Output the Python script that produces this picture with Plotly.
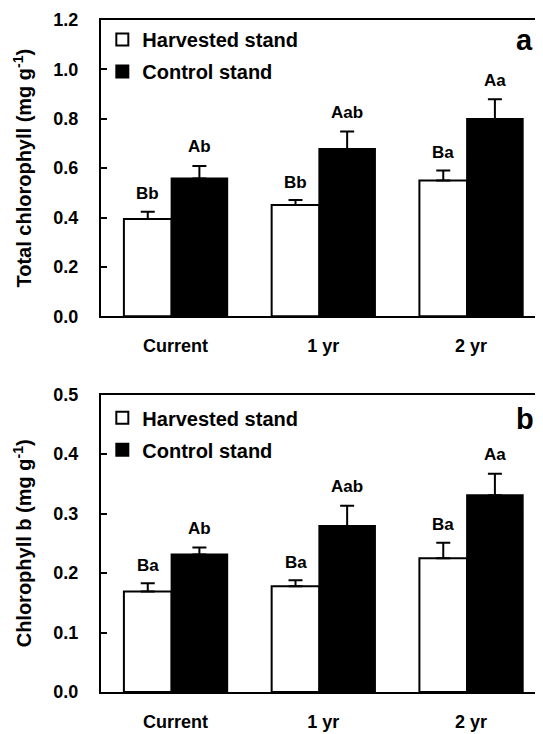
import plotly.graph_objects as go

categories = ["Current", "1 yr", "2 yr"]
series_names = ["Harvested stand", "Control stand"]

# Panel a: Total chlorophyll (mg g-1)
total_harvested = [0.394, 0.451, 0.550]
total_harvested_err = [0.030, 0.020, 0.041]
total_control = [0.558, 0.678, 0.799]
total_control_err = [0.051, 0.071, 0.080]
total_harvested_lbl = ["Bb", "Bb", "Ba"]
total_control_lbl = ["Ab", "Aab", "Aa"]

# Panel b: Chlorophyll b (mg g-1)
chlb_harvested = [0.169, 0.178, 0.225]
chlb_harvested_err = [0.014, 0.010, 0.026]
chlb_control = [0.231, 0.279, 0.331]
chlb_control_err = [0.012, 0.034, 0.036]
chlb_harvested_lbl = ["Ba", "Ba", "Ba"]
chlb_control_lbl = ["Ab", "Aab", "Aa"]

FONT = "Liberation Sans, Arial, sans-serif"
pos = list(range(len(categories)))
W_OFF, W_WID = -0.349, 0.323   # harvested bar offset/width
C_OFF, C_WID = -0.026, 0.376   # control bar offset/width

fig = go.Figure()

def add_panel(xa, ya, leg, hv, he, cv, ce, hl, cl):
    fig.add_trace(go.Bar(
        x=pos, y=hv, name=series_names[0], offset=W_OFF, width=W_WID,
        marker=dict(color="white", line=dict(color="black", width=2)),
        error_y=dict(type="data", array=he, symmetric=False, arrayminus=[0]*len(he),
                     color="black", thickness=2, width=7),
        xaxis=xa, yaxis=ya, legend=leg, legendgroup=leg + "h"))
    fig.add_trace(go.Bar(
        x=pos, y=cv, name=series_names[1], offset=C_OFF, width=C_WID,
        marker=dict(color="black", line=dict(color="black", width=2)),
        error_y=dict(type="data", array=ce, symmetric=False, arrayminus=[0]*len(ce),
                     color="black", thickness=2, width=7),
        xaxis=xa, yaxis=ya, legend=leg, legendgroup=leg + "c"))
    for i in pos:
        fig.add_annotation(x=i + W_OFF + W_WID / 2, y=hv[i] + he[i], text=hl[i],
                           xref=xa, yref=ya, showarrow=False, yanchor="middle", yshift=18,
                           font=dict(size=17, family=FONT, weight="bold"))
        fig.add_annotation(x=i + C_OFF + C_WID / 2, y=cv[i] + ce[i], text=cl[i],
                           xref=xa, yref=ya, showarrow=False, yanchor="middle", yshift=19,
                           font=dict(size=17, family=FONT, weight="bold"))

add_panel("x", "y", "legend", total_harvested, total_harvested_err,
          total_control, total_control_err, total_harvested_lbl, total_control_lbl)
add_panel("x2", "y2", "legend2", chlb_harvested, chlb_harvested_err,
          chlb_control, chlb_control_err, chlb_harvested_lbl, chlb_control_lbl)

xcommon = dict(range=[-0.504, 2.474], tickvals=pos, ticktext=categories,
               showline=True, linecolor="black", linewidth=2, mirror=True,
               ticks="", showgrid=False, zeroline=False, ticklabelstandoff=12,
               tickfont=dict(size=18, family=FONT, weight="bold", color="black"))
ycommon = dict(showline=True, linecolor="black", linewidth=2, mirror=False,
               ticks="inside", ticklen=6, tickwidth=1.5, tickcolor="black",
               showgrid=False, zeroline=False, tickformat=".1f", ticklabelstandoff=17,
               tickfont=dict(size=18, family=FONT, weight="bold", color="black"))

# page body has an 8px default margin, so the figure is 8px smaller than the window
fig.update_layout(
    width=535, height=726,
    margin=dict(l=93, r=2, t=7, b=41),
    paper_bgcolor="white", plot_bgcolor="white",
    barmode="overlay", showlegend=True,
    font=dict(family=FONT, color="black", weight="bold"),
    xaxis=dict(**xcommon, anchor="y", domain=[0, 1]),
    xaxis2=dict(**xcommon, anchor="y2", domain=[0, 1]),
    yaxis=dict(**ycommon, anchor="x", domain=[0.559, 1], range=[0, 1.2], dtick=0.2,
               title=dict(text="Total chlorophyll (mg g<sup>-1</sup>)", standoff=16,
                          font=dict(size=20, family=FONT, weight="bold"))),
    yaxis2=dict(**ycommon, anchor="x2", domain=[0, 0.4425], range=[0, 0.5], dtick=0.1,
                title=dict(text="Chlorophyll b (mg g<sup>-1</sup>)", standoff=16,
                           font=dict(size=20, family=FONT, weight="bold"))),
    legend=dict(x=0.003, y=1.0, xanchor="left", yanchor="top", bgcolor="rgba(0,0,0,0)",
                tracegroupgap=3, font=dict(size=20, family=FONT, weight="bold")),
    legend2=dict(x=0.003, y=0.437, xanchor="left", yanchor="top", bgcolor="rgba(0,0,0,0)",
                 tracegroupgap=3, font=dict(size=20, family=FONT, weight="bold")),
)

fig.add_annotation(x=0.963, y=0.970, xref="paper", yref="paper", text="a", showarrow=False,
                   xanchor="center", yanchor="middle",
                   font=dict(size=29, family=FONT, weight="bold"))
fig.add_annotation(x=0.964, y=0.4056, xref="paper", yref="paper", text="b", showarrow=False,
                   xanchor="center", yanchor="middle",
                   font=dict(size=29, family=FONT, weight="bold"))

fig.write_html("out.html")
